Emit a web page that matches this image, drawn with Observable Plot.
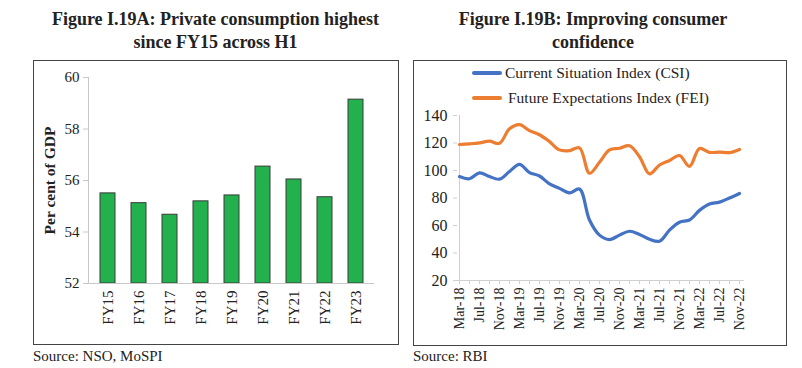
<!DOCTYPE html>
<html><head><meta charset="utf-8">
<script src="https://cdn.jsdelivr.net/npm/d3@7"></script>
<script src="https://cdn.jsdelivr.net/npm/@observablehq/plot@0.6"></script>
<style>
body{margin:0;background:#fff;}
#page{position:relative;width:802px;height:368px;font-family:"Liberation Serif","Times New Roman",serif;color:#222;overflow:hidden;background:#fff;}
.title{position:absolute;font-weight:bold;font-size:18px;line-height:23px;text-align:center;}
.box{position:absolute;border:1px solid #444;box-sizing:border-box;}
.src{position:absolute;font-size:15px;line-height:17px;}
.plot{position:absolute;}
.leg{position:absolute;font-size:15.5px;display:flex;align-items:center;white-space:nowrap;line-height:18px;}
.leg i{display:inline-block;width:30px;height:3.5px;border-radius:2px;margin-right:3px;}
</style></head><body>
<div id="page">
  <div class="title" style="left:33px;top:8px;width:365px;">Figure I.19A: Private consumption highest<br>since FY15 across H1</div>
  <div class="title" style="left:400px;top:8px;width:386px;">Figure I.19B: Improving consumer<br>confidence</div>
  <div class="box" style="left:33px;top:60px;width:366px;height:285px;"></div>
  <div class="box" style="left:413px;top:60px;width:374px;height:286px;"></div>
  <div id="left" class="plot" style="left:33px;top:60px;"></div>
  <div id="right" class="plot" style="left:413px;top:60px;"></div>
  <div class="leg" style="left:472px;top:64px;"><i style="background:#4472c4"></i>Current Situation Index (CSI)</div>
  <div class="leg" style="left:472px;top:89px;"><i style="background:#ed7d31;margin-right:6px"></i>Future Expectations Index (FEI)</div>
  <div class="src" style="left:33px;top:348px;">Source: NSO, MoSPI</div>
  <div class="src" style="left:413px;top:348px;">Source: RBI</div>
</div>
<script>
// ---- Figure I.19A data ----
const fyLabels = ["FY15","FY16","FY17","FY18","FY19","FY20","FY21","FY22","FY23"];
const shareGDP = [55.5, 55.12, 54.67, 55.19, 55.42, 56.54, 56.04, 55.35, 59.14];
const leftTicks = [52, 54, 56, 58, 60];

// ---- Figure I.19B data ----
const months = ["Mar-18","May-18","Jul-18","Sep-18","Nov-18","Jan-19","Mar-19","May-19","Jul-19","Sep-19","Nov-19","Jan-20","Mar-20","May-20","Jul-20","Sep-20","Nov-20","Jan-21","Mar-21","May-21","Jul-21","Sep-21","Nov-21","Jan-22","Mar-22","May-22","Jul-22","Sep-22","Nov-22"];
const csi = [95.6,94,98.3,95.6,93.7,99.3,104.5,98.5,96,90.3,87,83.7,86.5,64,53,49.8,53,55.8,53.5,50,48.6,56.6,62.4,64,71,75.6,77,80,83.3];
const fei = [118.9,119.4,120.1,121.3,119.8,130.3,133.4,129,126,121,115,114.5,116.5,98,106,115,116.2,118,110,97.5,104,107.3,110.9,103,116,113.2,113.4,113,115.3];
const monthTickLabels = ["Mar-18","Jul-18","Nov-18","Mar-19","Jul-19","Nov-19","Mar-20","Jul-20","Nov-20","Mar-21","Jul-21","Nov-21","Mar-22","Jul-22","Nov-22"];
const rightTicks = [20, 40, 60, 80, 100, 120, 140];

const font = {fontFamily:"'Liberation Serif','Times New Roman',serif", fontSize:"14px", color:"#222", background:"transparent", overflow:"visible"};

const barData = fyLabels.map((d,i)=>({fy:d, v:shareGDP[i]}));
const leftPlot = Plot.plot({
  width:365, height:284,
  marginLeft:55, marginRight:24, marginTop:17, marginBottom:61,
  style:font,
  x:{domain:fyLabels, paddingInner:0.528, paddingOuter:0.283, label:null},
  y:{domain:[52,60], label:null},
  marks:[
    Plot.barY(barData, {x:"fy", y1:52, y2:"v", fill:"#22b14c", stroke:"#3a3a3a", strokeWidth:1}),
    Plot.ruleY([52], {stroke:"#c8c8c8"}),
    Plot.frame({anchor:"left", stroke:"#c8c8c8"}),
    Plot.axisY({ticks:leftTicks, tickSize:5, tickPadding:4, stroke:"#c8c8c8", fill:"#222", fontSize:15, label:null}),
    Plot.axisX({tickSize:0, tickPadding:7, tickRotate:-90, fill:"#222", fontSize:15, label:null}),
    Plot.text(["Per cent of GDP"], {frameAnchor:"left", textAnchor:"middle", dx:-38, rotate:-90, fontWeight:"bold", fontSize:15.5, fill:"#222"})
  ]
});
document.getElementById("left").append(leftPlot);

const labelSet = new Set(monthTickLabels);
const lineData = months.flatMap((m,i)=>[{m, v:csi[i], s:"CSI"},{m, v:fei[i], s:"FEI"}]);
const rightPlot = Plot.plot({
  width:374, height:285,
  marginLeft:44, marginRight:46, marginTop:55, marginBottom:65,
  style:font,
  x:{type:"point", domain:months, padding:0, label:null},
  y:{domain:[20,140], label:null},
  color:{domain:["CSI","FEI"], range:["#4472c4","#ed7d31"]},
  marks:[
    Plot.ruleY([20], {stroke:"#d0d0d0", insetLeft:-3, insetRight:-3}),
    Plot.ruleX([months[0]], {stroke:"#d0d0d0"}),
    Plot.axisY({ticks:rightTicks, tickSize:4, tickPadding:6, stroke:"#d0d0d0", fill:"#222", fontSize:16, label:null}),
    Plot.axisX({ticks:months, tickSize:4, tickPadding:3, tickRotate:-90, stroke:"#d0d0d0", fill:"#222", fontSize:14, label:null,
      tickFormat:d=>labelSet.has(d)?d:""}),
    Plot.line(lineData, {x:"m", y:"v", z:"s", stroke:"s", strokeWidth:3.2, curve:"catmull-rom"})
  ]
});
document.getElementById("right").append(rightPlot);
</script>
</body></html>
